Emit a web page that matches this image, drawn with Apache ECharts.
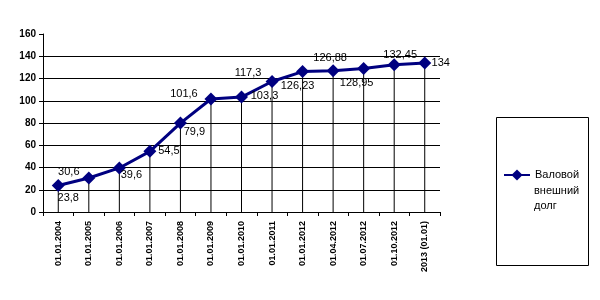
<!DOCTYPE html>
<html><head><meta charset="utf-8">
<script src="https://cdn.jsdelivr.net/npm/echarts@6/dist/echarts.min.js"></script>
<style>html,body{margin:0;padding:0;background:#fff}#c{width:600px;height:300px}</style>
</head><body><div id="c"></div>
<script>
const categories = ['01.01.2004','01.01.2005','01.01.2006','01.01.2007','01.01.2008','01.01.2009','01.01.2010','01.01.2011','01.01.2012','01.04.2012','01.07.2012','01.10.2012','2013 (01.01)'];
const values = [23.8, 30.6, 39.6, 54.5, 79.9, 101.6, 103.3, 117.3, 126.23, 126.88, 128.95, 132.45, 134];
const seriesName = 'Валовой внешний долг';
const legendLines = ['Валовой', 'внешний', 'долг'];
const yTicks = {min: 0, max: 160, interval: 20};
// label offsets (layout only)
const labelOffsets = [[10,12],[-20,-6],[12,7],[19,0],[14,9],[-27,-5],[23,-1],[-24,-9],[-5,14],[-3,-13],[-7,14],[6,-10],[16,0]];

const font = "'Liberation Sans', Arial, sans-serif";
const chart = echarts.init(document.getElementById('c'), null, {renderer: 'canvas'});
const lineData = values.map((v, i) => ({
  value: v,
  label: {show: true, position: 'inside', offset: labelOffsets[i], align: 'center', verticalAlign: 'middle'}
}));
chart.setOption({
  animation: false,
  backgroundColor: '#fff',
  grid: {left: 43, right: 160, top: 34, bottom: 88},
  xAxis: {
    type: 'category', data: categories, boundaryGap: true,
    axisLine: {lineStyle: {color: '#000', width: 1}},
    axisTick: {show: true, inside: false, length: 4, lineStyle: {color: '#000'}},
    axisLabel: {rotate: 90, fontSize: 9, fontWeight: 'bold', color: '#000', fontFamily: font, margin: 9, interval: 0},
    splitLine: {show: false}
  },
  yAxis: {
    type: 'value', min: yTicks.min, max: yTicks.max, interval: yTicks.interval,
    axisLine: {show: true, lineStyle: {color: '#000', width: 1}},
    axisTick: {show: true, length: 4, lineStyle: {color: '#000'}},
    axisLabel: {fontSize: 10, fontWeight: 'bold', color: '#000', fontFamily: font, margin: 7},
    splitLine: {show: true, lineStyle: {color: ['#000','#000','#000','#000','#000','#000','#000','#000','rgba(0,0,0,0)'], width: 1}}
  },
  legend: {
    data: [seriesName],
    left: 503, top: 168, padding: 0,
    itemWidth: 26, itemHeight: 14,
    formatter: () => legendLines[0],
    textStyle: {fontSize: 11, color: '#000', fontFamily: font, lineHeight: 14}
  },
  graphic: [{
    type: 'rect', shape: {x: 496.5, y: 117.5, width: 92, height: 148},
    style: {fill: 'none', stroke: '#000', lineWidth: 1}, silent: true
  }, {
    type: 'text', left: 534, top: 183, silent: true,
    style: {text: legendLines.slice(1).join('\n'), fontSize: 11, fontFamily: font, fill: '#000', lineHeight: 15.5}
  }],
  series: [
    {
      type: 'bar', name: 'drop', data: values, barWidth: 1,
      itemStyle: {color: '#000'}, z: 1, silent: true
    },
    {
      type: 'line', name: seriesName, data: lineData,
      symbol: 'diamond', symbolSize: 13,
      lineStyle: {color: '#000080', width: 3},
      itemStyle: {color: '#000080'},
      label: {fontSize: 11, color: '#000', fontFamily: font,
        formatter: p => String(p.value).replace('.', ',')},
      z: 3
    }
  ]
});
</script></body></html>
